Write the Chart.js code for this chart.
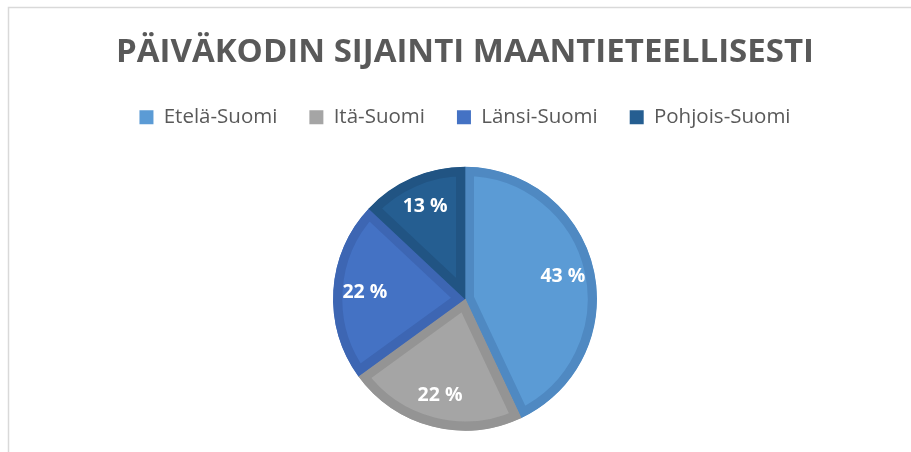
<!DOCTYPE html>
<html lang="fi">
<head>
    <meta charset="UTF-8">
    <title>Päiväkodin sijainti maantieteellisesti</title>
    <script src="https://cdn.jsdelivr.net/npm/chart.js"></script>
    <style>
        body { margin: 0; background: #fff; }
        #wrap { position: relative; width: 911px; height: 452px; }
    </style>
</head>
<body>
    <div id="wrap"><canvas id="pie"></canvas></div>

    <script>
        // data
        const regions = ["Etelä-Suomi", "Itä-Suomi", "Länsi-Suomi", "Pohjois-Suomi"];
        const shares = [43, 22, 22, 13];

        const fills = ["#5B9BD5", "#A5A5A5", "#4472C4", "#255E91"];
        const edges = ["#4F89C2", "#949494", "#3D66B3", "#215483"];

        // grey frame of the original chart box
        const frame = {
            id: "frame",
            beforeDraw(chart) {
                const ctx = chart.ctx;
                ctx.save();
                ctx.strokeStyle = "#d9d9d9";
                ctx.lineWidth = 1.5;
                ctx.beginPath();
                ctx.moveTo(8.5, chart.height);
                ctx.lineTo(8.5, 7.5);
                ctx.lineTo(chart.width, 7.5);
                ctx.stroke();
                ctx.restore();
            }
        };

        // a bit more room under the legend, pushes the pie down
        const legendGap = {
            id: "legendGap",
            beforeLayout(chart) {
                const legend = chart.legend;
                if (legend && !legend._gapAdded) {
                    const fit = legend.fit;
                    legend.fit = function () {
                        fit.call(this);
                        this.height += 8;
                    };
                    legend._gapAdded = true;
                }
            }
        };

        // white percentage labels inside the slices
        const sliceLabels = {
            id: "sliceLabels",
            afterDatasetsDraw(chart) {
                const ctx = chart.ctx;
                const arcs = chart.getDatasetMeta(0).data;
                ctx.save();
                ctx.fillStyle = "#ffffff";
                ctx.font = "bold 19.5px 'Open Sans'";
                ctx.textAlign = "center";
                ctx.textBaseline = "middle";
                arcs.forEach((arc, i) => {
                    const p = arc.getProps(["x", "y", "startAngle", "endAngle", "outerRadius"], true);
                    const mid = (p.startAngle + p.endAngle) / 2;
                    const r = p.outerRadius * 0.76;
                    ctx.fillText(shares[i] + " %", p.x + Math.cos(mid) * r, p.y + Math.sin(mid) * r);
                });
                ctx.restore();
            }
        };

        const canvas = document.getElementById("pie");
        new Chart(canvas, {
            type: "pie",
            data: {
                labels: regions,
                datasets: [{
                    data: shares,
                    backgroundColor: fills,
                    borderColor: edges,
                    borderWidth: 9,
                    borderAlign: "inner",
                    borderJoinStyle: "miter",
                    radius: 132
                }]
            },
            options: {
                responsive: true,
                maintainAspectRatio: false,
                animation: false,
                layout: { padding: { left: 19, right: 0, top: 0, bottom: 0 } },
                plugins: {
                    title: {
                        display: true,
                        text: "PÄIVÄKODIN SIJAINTI MAANTIETEELLISESTI",
                        color: "#595959",
                        font: { family: "'Open Sans'", size: 33, weight: "bold", lineHeight: 1 },
                        padding: { top: 36, bottom: 6 }
                    },
                    legend: {
                        position: "top",
                        labels: {
                            color: "#595959",
                            font: { family: "'Open Sans'", size: 20.5 },
                            boxWidth: 14,
                            boxHeight: 14,
                            padding: 32,
                            generateLabels: () => regions.map((name, i) => ({
                                text: name,
                                fillStyle: fills[i],
                                strokeStyle: fills[i],
                                lineWidth: 0,
                                fontColor: "#595959",
                                index: i
                            }))
                        }
                    },
                    tooltip: { enabled: false }
                }
            },
            plugins: [frame, legendGap, sliceLabels]
        });
    </script>
</body>
</html>
